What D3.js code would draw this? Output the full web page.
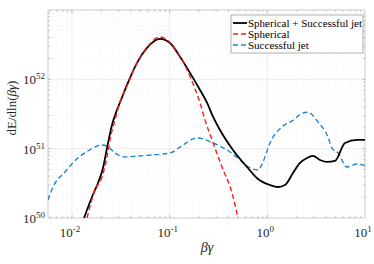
<!DOCTYPE html>
<head>
  <meta charset="utf-8">
  <script src="https://d3js.org/d3.v7.min.js"></script>
  <style>
    body { margin:0; background:#fff; }
  </style>
</head>
<body>
<script>

// values (beta*gamma, dE/dln(beta*gamma))
var bgTotal = [0.01327,0.01602,0.01846,0.02077,0.02283,0.02568,0.02889,0.03174,0.03657,0.0463,0.05861,0.07962,0.1008,0.1276,0.1615,0.2045,0.2411,0.2777,0.3276,0.445,0.6191,0.8025,1.065,1.286,1.516,1.831,2.16,2.547,2.935,3.46,4.081,4.927,6.237,8.278,10];
var eTotal  = [1.0e50,2.01e50,3.2e50,5.27e50,1.02e51,2.2e51,3.62e51,5.04e51,8.3e51,1.73e52,2.84e52,3.83e52,3.35e52,2.11e52,1.24e52,7.03e51,4.6e51,2.9e51,1.86e51,9.58e50,5.44e50,3.65e50,2.99e50,2.8e50,2.99e50,4.46e50,6.22e50,7.34e50,7.85e50,6.87e50,6.43e50,6.65e50,1.21e51,1.34e51,1.34e51];

var bgSph = [0.01424,0.0172,0.02029,0.02283,0.02449,0.02756,0.03101,0.03657,0.0463,0.05861,0.07962,0.1008,0.1276,0.1615,0.2045,0.23,0.2713,0.3435,0.4346,0.5008];
var eSph  = [1.0e50,2.54e50,3.91e50,7.59e50,1.34e51,2.6e51,4.72e51,8.0e51,1.73e52,2.9e52,4.09e52,3.4e52,2.15e52,1.1e52,4.56e51,2.6e51,1.34e51,5.44e50,2.3e50,1.0e50];

var bgJet = [0.00568,0.00639,0.00848,0.0115,0.01458,0.01803,0.0198,0.02283,0.02756,0.03488,0.0474,0.06594,0.1008,0.1369,0.1905,0.2777,0.4147,0.5251,0.6645,0.8025,0.9028,1.065,1.413,1.789,2.318,2.608,3.301,4.178,4.592,5.289,6.539,8.278,10];
var eJet  = [1.82e50,2.8e50,4.61e50,7.34e50,9.26e50,1.09e51,1.13e51,1.09e51,8.67e50,7.59e50,7.85e50,8.11e50,8.67e50,1.13e51,1.43e51,1.21e51,8.96e50,6.87e50,5.27e50,4.93e50,6.43e50,1.21e51,2.06e51,2.51e51,3.27e51,3.35e51,2.43e51,1.47e51,1.02e51,8.67e50,5.44e50,6.01e50,5.63e50];

var xTickExp = [-2,-1,0,1];
var yTickExp = [50,51,52];
var legendNames = ["Spherical + Successful jet","Spherical","Successful jet"];

var W = 374, H = 264;
var L = 48, R = 365, T = 10, B = 218;
var SERIF = "'Liberation Serif', 'Times New Roman', Times, 'DejaVu Serif', serif";

var x = d3.scaleLog().domain([0.00568, 10]).range([L, R]);
var y = d3.scaleLog().domain([1e50, 1e53]).range([B, T]);

var svg = d3.select("body").append("svg").attr("width", W).attr("height", H)
  .attr("font-family", SERIF).style("font-family", SERIF);

svg.append("defs").append("clipPath").attr("id", "clip")
  .append("rect").attr("x", L).attr("y", T).attr("width", R - L).attr("height", B - T);

// grid
var xMinor = [], yMinor = [];
for (var e = -3; e <= 1; e++) for (var m = 1; m < 10; m++) {
  var v = m * Math.pow(10, e);
  if (v > 0.00568 && v < 10) xMinor.push(v);
}
for (var e2 = 50; e2 < 53; e2++) for (var m2 = 1; m2 < 10; m2++) {
  var v2 = m2 * Math.pow(10, e2);
  if (v2 > 1e50 && v2 < 1e53) yMinor.push(v2);
}
function isMajor(d) { return Math.abs(Math.log10(d) % 1) < 1e-9; }

var grid = svg.append("g");
grid.selectAll(".gx").data(xMinor).enter().append("line")
  .attr("x1", d => x(d)).attr("x2", d => x(d)).attr("y1", T).attr("y2", B)
  .attr("stroke", d => isMajor(d) ? "#e3e3e3" : "#ececec")
  .attr("stroke-width", 0.6)
  .attr("stroke-dasharray", d => isMajor(d) ? null : "1,1.5");
grid.selectAll(".gy").data(yMinor).enter().append("line")
  .attr("y1", d => y(d)).attr("y2", d => y(d)).attr("x1", L).attr("x2", R)
  .attr("stroke", d => isMajor(d) ? "#e3e3e3" : "#ececec")
  .attr("stroke-width", 0.6)
  .attr("stroke-dasharray", d => isMajor(d) ? null : "1,1.5");

// ticks on all sides
var ticks = svg.append("g").attr("stroke", "#999").attr("stroke-width", 0.6);
xMinor.forEach(function (d) {
  var len = isMajor(d) ? 3 : 1.8;
  ticks.append("line").attr("x1", x(d)).attr("x2", x(d)).attr("y1", B).attr("y2", B - len);
  ticks.append("line").attr("x1", x(d)).attr("x2", x(d)).attr("y1", T).attr("y2", T + len);
});
yMinor.forEach(function (d) {
  var len = isMajor(d) ? 3 : 1.8;
  ticks.append("line").attr("y1", y(d)).attr("y2", y(d)).attr("x1", L).attr("x2", L + len);
  ticks.append("line").attr("y1", y(d)).attr("y2", y(d)).attr("x1", R).attr("x2", R - len);
});

svg.append("rect").attr("x", L).attr("y", T).attr("width", R - L).attr("height", B - T)
  .attr("fill", "none").attr("stroke", "#bdbdbd").attr("stroke-width", 0.8);

// curves
var line = d3.line().x(d => x(d[0])).y(d => y(d[1])).curve(d3.curveMonotoneX);
var plot = svg.append("g").attr("clip-path", "url(#clip)");

plot.append("path").datum(d3.zip(bgJet, eJet)).attr("d", line)
  .attr("fill", "none").attr("stroke", "#1f86cc").attr("stroke-width", 1.4)
  .attr("stroke-dasharray", "5,3");
plot.append("path").datum(d3.zip(bgTotal, eTotal)).attr("d", line)
  .attr("fill", "none").attr("stroke", "#000").attr("stroke-width", 1.8);
plot.append("path").datum(d3.zip(bgSph, eSph)).attr("d", line)
  .attr("fill", "none").attr("stroke", "#ff1a1a").attr("stroke-width", 1.4)
  .attr("stroke-dasharray", "5,3");

// tick labels
xTickExp.forEach(function (p) {
  var t = svg.append("text").attr("x", x(Math.pow(10, p)) - 2).attr("y", 237)
    .attr("text-anchor", "middle").attr("fill", "#262626").style("font-size", "13px");
  t.append("tspan").text("10");
  t.append("tspan").attr("dy", -5).style("font-size", "9px").text(p);
});
yTickExp.forEach(function (p) {
  var t = svg.append("text").attr("x", 45).attr("y", y(Math.pow(10, p)) + 5)
    .attr("text-anchor", "end").attr("fill", "#262626").style("font-size", "13px");
  t.append("tspan").text("10");
  t.append("tspan").attr("dy", -5).style("font-size", "9px").text(p);
});

// axis labels
svg.append("text").attr("x", 207).attr("y", 252).attr("text-anchor", "middle")
  .attr("fill", "#262626").style("font-size", "14px").style("font-style", "italic").text("βγ");
var yl = svg.append("text").attr("transform", "translate(16,108) rotate(-90)")
  .attr("text-anchor", "middle").attr("fill", "#262626").style("font-size", "13px");
yl.append("tspan").text("dE/dln(");
yl.append("tspan").style("font-style", "italic").text("βγ");
yl.append("tspan").text(")");

// legend
var lg = svg.append("g");
lg.append("rect").attr("x", 231).attr("y", 15).attr("width", 132).attr("height", 38)
  .attr("fill", "#fff").attr("stroke", "#8c8c8c").attr("stroke-width", 0.7);
var legColors = ["#000", "#ff1a1a", "#1f86cc"];
legendNames.forEach(function (n, i) {
  var yy = 23 + i * 11;
  lg.append("line").attr("x1", 233).attr("x2", 247).attr("y1", yy).attr("y2", yy)
    .attr("stroke", legColors[i]).attr("stroke-width", i === 0 ? 1.8 : 1.4)
    .attr("stroke-dasharray", i === 0 ? null : "5,3");
  lg.append("text").attr("x", 248).attr("y", yy + 3.5).style("font-size", "11px")
    .attr("fill", "#000").text(n);
});

</script>
</body>
